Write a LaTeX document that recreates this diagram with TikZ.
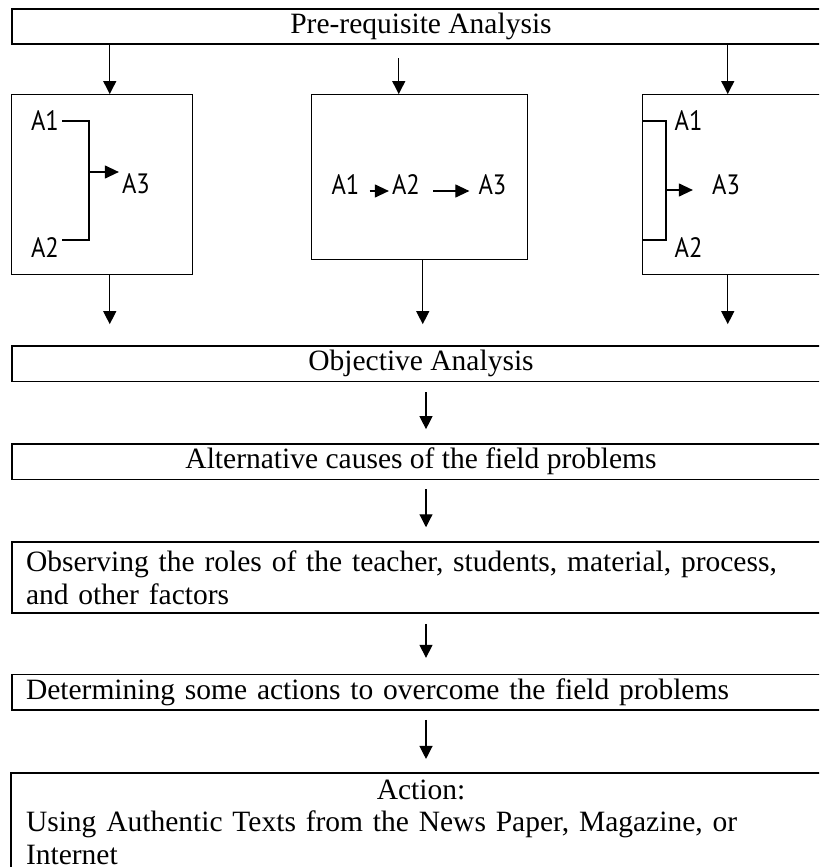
\documentclass[tikz,border=0pt]{standalone}
\usepackage{fontspec}
\setmainfont{Liberation Serif}
\newfontfamily\afont[FakeStretch=0.88]{PT Sans}
\usetikzlibrary{arrows.meta,positioning}

\newcommand{\barsize}{\fontsize{29.5}{33}\selectfont}

\tikzstyle{bar} = [draw, line width=1.6pt, minimum width=818pt, minimum height=35.5pt, inner sep=0pt, font=\barsize]
\tikzstyle{panel} = [draw, line width=1.1pt, anchor=north west, minimum width=181pt, minimum height=180pt]
\tikzstyle{lbl} = [inner sep=3pt, font=\afont\fontsize{28}{32}\selectfont]
\tikzstyle{bracket} = [draw, line width=1.2pt]
\tikzstyle{tedge} = [draw, line width=1.2pt, -{Triangle[length=13pt,width=13pt]}]
\tikzstyle{sedge} = [draw, line width=1.2pt, -{Triangle[length=14pt,width=13pt]}]

\begin{document}
\begin{tikzpicture}[x=1pt, y=1pt]
\useasboundingbox (0,0) rectangle (819,-867);
\clip (0,0) rectangle (819,-867);

% analysis bars =============================

\node[bar] (pre) at (421,-26.5) {Pre-requisite Analysis};

% panels
\node[panel, below right=49pt and 0pt of pre.south west] (pleft) {};
\node[panel, below right=49pt and 300pt of pre.south west, minimum width=216pt, minimum height=165pt] (pmid) {};
\node[panel, below right=49pt and 631pt of pre.south west] (pright) {};

% steps
\node[bar, below right=300pt and 0pt of pre.south west] (obj) {Objective Analysis};
\node[bar, below=61pt of obj] (alt) {Alternative causes of the field problems};
\node[bar, below=61pt of alt, text width=790pt, inner xsep=14pt, inner ysep=6pt, align=left, minimum height=71pt] (obs)
  {Observing the roles of the teacher, students, material, process,\\ and other factors};
\node[bar, below=60pt of obs, text width=790pt, inner xsep=14pt, align=left] (det)
  {Determining some actions to overcome the field problems};
\node[bar, draw=none, below=62pt of det, text width=790pt, inner xsep=14pt, inner ysep=6pt, align=left,
  font=\fontsize{29.5}{32.5}\selectfont] (act)
  {\makebox[\linewidth]{Action:}\\ Using Authentic Texts from the News Paper, Magazine, or\\ Internet};
\draw[line width=1.6pt] (act.north west) rectangle ([yshift=-30pt]act.south east);

% panel contents
\node[lbl] (la1) at (45,-121) {A1};
\node[lbl] (la2) at (45,-248) {A2};
\node[lbl] (la3) at (136,-184) {A3};
\coordinate (lj) at (89,-172);

\node[lbl] (ma1) at (345.5,-185) {A1};
\node[lbl] (ma2) at (406,-185) {A2};
\node[lbl] (ma3) at (492.5,-185) {A3};

\node[lbl] (ra1) at (688.5,-121) {A1};
\node[lbl] (ra3) at (726,-185) {A3};
\node[lbl] (ra2) at (688.5,-248) {A2};
\coordinate (rj) at (666,-190);

%edges
\path[bracket] (la1.east) -| (lj) |- ([yshift=8pt]la2.east);
\path[sedge] (lj) -- (lj -| la3.west);

\path[sedge, shorten <=7pt] ([yshift=-6pt]ma1.east) -- ([yshift=-6pt]ma2.west);
\path[sedge, shorten <=10pt, shorten >=6pt] ([yshift=-6pt]ma2.east) -- ([yshift=-6pt]ma3.west);

\path[bracket] (ra1 -| pright.west) -| (rj) |- ([yshift=8pt]ra2.center -| pright.west);
\path[sedge, shorten >=16pt] (rj) -- (rj -| ra3.west);

\path[tedge] ([xshift=7.5pt, yshift=49pt]pleft.north) -- ([xshift=7.5pt]pleft.north);
\path[tedge] ([xshift=-21pt, yshift=36pt]pmid.north) -- ([xshift=-21pt]pmid.north);
\path[tedge] ([xshift=-5.5pt, yshift=49pt]pright.north) -- ([xshift=-5.5pt]pright.north);

\path[tedge] ([xshift=7.5pt]pleft.south) -- ([xshift=7.5pt, yshift=-49pt]pleft.south);
\path[tedge] ([xshift=3pt]pmid.south) -- ([xshift=3pt, yshift=-64pt]pmid.south);
\path[tedge] ([xshift=-5.5pt]pright.south) -- ([xshift=-5.5pt, yshift=-49pt]pright.south);

\path[tedge, shorten <=10pt, shorten >=14pt] ([xshift=5pt]obj.south) -- ([xshift=5pt]alt.north);
\path[tedge, shorten <=9pt, shorten >=14pt] ([xshift=5pt]alt.south) -- ([xshift=5pt]obs.north);
\path[tedge, shorten <=10pt, shorten >=16pt] ([xshift=5pt]obs.south) -- ([xshift=5pt]det.north);
\path[tedge, shorten <=9pt, shorten >=14pt] ([xshift=5pt]det.south) -- ([xshift=5pt]act.north);

\end{tikzpicture}
\end{document}
